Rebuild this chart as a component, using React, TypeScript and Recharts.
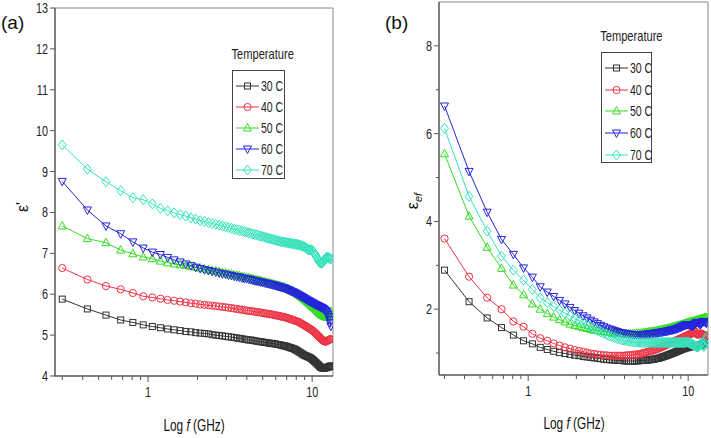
import React from 'react';
import { LineChart, Line, XAxis, YAxis, Legend, ReferenceLine } from 'recharts';

// sweep frequencies (GHz), linear steps of 0.127 GHz
const freqGHz = [
  0.3, 0.427, 0.554, 0.681, 0.808, 0.935, 1.062, 1.189, 1.316, 1.443,
  1.57, 1.697, 1.824, 1.951, 2.078, 2.205, 2.332, 2.459, 2.586, 2.713,
  2.84, 2.967, 3.094, 3.221, 3.348, 3.475, 3.602, 3.729, 3.856, 3.983,
  4.11, 4.237, 4.364, 4.491, 4.618, 4.745, 4.872, 4.999, 5.126, 5.253,
  5.38, 5.507, 5.634, 5.761, 5.888, 6.015, 6.142, 6.269, 6.396, 6.523,
  6.65, 6.777, 6.904, 7.031, 7.158, 7.285, 7.412, 7.539, 7.666, 7.793,
  7.92, 8.047, 8.174, 8.301, 8.428, 8.555, 8.682, 8.809, 8.936, 9.063,
  9.19, 9.317, 9.444, 9.571, 9.698, 9.825, 9.952, 10.079, 10.206, 10.333,
  10.46, 10.587, 10.714, 10.841, 10.968, 11.095, 11.222, 11.349, 11.476, 11.603,
  11.73, 11.857, 11.984, 12.111, 12.238, 12.365, 12.492, 12.619, 12.746, 12.873,
  13.0,
];

const tempLabels = ['30 C', '40 C', '50 C', '60 C', '70 C'];
const seriesColors = ['#333333', '#ee3344', '#33dd22', '#2424dd', '#36e2bc'];
const markerShapes = ['square', 'circle', 'up', 'down', 'diamond'];

// (a) real permittivity
const realPerm30 = [
  5.88, 5.64, 5.49, 5.37, 5.31, 5.25, 5.21, 5.18, 5.15, 5.13,
  5.11, 5.09, 5.08, 5.06, 5.05, 5.04, 5.03, 5.01, 5.0, 4.99,
  4.98, 4.97, 4.96, 4.95, 4.94, 4.93, 4.92, 4.91, 4.9, 4.89,
  4.88, 4.88, 4.87, 4.86, 4.85, 4.84, 4.84, 4.83, 4.82, 4.82,
  4.81, 4.8, 4.8, 4.79, 4.79, 4.78, 4.77, 4.77, 4.76, 4.75,
  4.74, 4.74, 4.73, 4.72, 4.71, 4.7, 4.69, 4.68, 4.67, 4.66,
  4.64, 4.63, 4.61, 4.59, 4.58, 4.56, 4.54, 4.53, 4.51, 4.5,
  4.49, 4.48, 4.47, 4.46, 4.45, 4.43, 4.42, 4.4, 4.38, 4.36,
  4.34, 4.32, 4.3, 4.28, 4.26, 4.24, 4.22, 4.21, 4.2, 4.19,
  4.19, 4.19, 4.2, 4.2, 4.21, 4.21, 4.22, 4.22, 4.23, 4.24,
  4.25,
];
const realPerm40 = [
  6.64, 6.36, 6.2, 6.12, 6.03, 5.95, 5.92, 5.89, 5.86, 5.84,
  5.82, 5.8, 5.78, 5.77, 5.75, 5.74, 5.73, 5.72, 5.71, 5.7,
  5.69, 5.68, 5.67, 5.66, 5.65, 5.64, 5.63, 5.62, 5.61, 5.6,
  5.59, 5.59, 5.58, 5.57, 5.56, 5.56, 5.55, 5.54, 5.53, 5.53,
  5.52, 5.51, 5.51, 5.5, 5.49, 5.48, 5.48, 5.47, 5.46, 5.45,
  5.45, 5.44, 5.43, 5.42, 5.41, 5.4, 5.39, 5.38, 5.37, 5.36,
  5.35, 5.34, 5.33, 5.32, 5.3, 5.29, 5.27, 5.26, 5.24, 5.23,
  5.21, 5.2, 5.18, 5.17, 5.15, 5.14, 5.12, 5.11, 5.09, 5.07,
  5.05, 5.03, 5.01, 4.99, 4.97, 4.95, 4.93, 4.91, 4.89, 4.87,
  4.86, 4.85, 4.84, 4.84, 4.85, 4.86, 4.87, 4.88, 4.89, 4.9,
  4.9,
];
const realPerm50 = [
  7.67, 7.36, 7.26, 7.08, 6.99, 6.91, 6.87, 6.81, 6.77, 6.74,
  6.72, 6.7, 6.68, 6.66, 6.64, 6.62, 6.6, 6.58, 6.57, 6.55,
  6.53, 6.52, 6.5, 6.49, 6.47, 6.46, 6.45, 6.43, 6.42, 6.41,
  6.4, 6.38, 6.37, 6.36, 6.35, 6.34, 6.33, 6.31, 6.3, 6.29,
  6.28, 6.27, 6.26, 6.25, 6.24, 6.23, 6.22, 6.21, 6.2, 6.19,
  6.18, 6.17, 6.15, 6.14, 6.13, 6.11, 6.1, 6.08, 6.07, 6.05,
  6.04, 6.02, 6.0, 5.98, 5.96, 5.94, 5.92, 5.9, 5.88, 5.86,
  5.84, 5.82, 5.8, 5.78, 5.76, 5.74, 5.72, 5.7, 5.68, 5.66,
  5.64, 5.62, 5.6, 5.58, 5.56, 5.54, 5.52, 5.5, 5.49, 5.48,
  5.47, 5.46, 5.45, 5.45, 5.44, 5.44, 5.45, 5.47, 5.5, 5.54,
  5.58,
];
const realPerm60 = [
  8.76, 8.06, 7.67, 7.48, 7.28, 7.13, 7.03, 6.97, 6.9, 6.84,
  6.79, 6.74, 6.7, 6.66, 6.63, 6.6, 6.58, 6.56, 6.54, 6.52,
  6.5, 6.49, 6.47, 6.46, 6.44, 6.43, 6.42, 6.4, 6.39, 6.38,
  6.37, 6.36, 6.34, 6.33, 6.32, 6.31, 6.3, 6.29, 6.28, 6.27,
  6.26, 6.25, 6.24, 6.23, 6.22, 6.21, 6.2, 6.19, 6.18, 6.17,
  6.16, 6.15, 6.14, 6.12, 6.11, 6.1, 6.08, 6.07, 6.06, 6.04,
  6.03, 6.01, 6.0, 5.98, 5.97, 5.95, 5.94, 5.92, 5.91, 5.89,
  5.88, 5.86, 5.85, 5.84, 5.82, 5.81, 5.8, 5.79, 5.77, 5.76,
  5.75, 5.74, 5.73, 5.72, 5.71, 5.7, 5.69, 5.68, 5.67, 5.66,
  5.65, 5.63, 5.61, 5.59, 5.57, 5.54, 5.5, 5.45, 5.38, 5.3,
  5.22,
];
const realPerm70 = [
  9.65, 9.06, 8.75, 8.53, 8.36, 8.31, 8.21, 8.1, 8.04, 7.99,
  7.95, 7.91, 7.87, 7.84, 7.8, 7.78, 7.75, 7.73, 7.71, 7.69,
  7.67, 7.65, 7.63, 7.61, 7.59, 7.58, 7.56, 7.55, 7.53, 7.52,
  7.5, 7.49, 7.47, 7.46, 7.45, 7.43, 7.42, 7.41, 7.4, 7.38,
  7.37, 7.36, 7.35, 7.34, 7.33, 7.32, 7.31, 7.3, 7.29, 7.28,
  7.28, 7.27, 7.27, 7.26, 7.25, 7.25, 7.24, 7.24, 7.23, 7.23,
  7.22, 7.22, 7.21, 7.21, 7.2, 7.19, 7.18, 7.17, 7.16, 7.15,
  7.13, 7.11, 7.09, 7.08, 7.08, 7.09, 7.08, 7.06, 7.03, 7.0,
  6.97, 6.93, 6.89, 6.85, 6.81, 6.78, 6.77, 6.76, 6.76, 6.78,
  6.8, 6.83, 6.86, 6.88, 6.9, 6.91, 6.9, 6.89, 6.88, 6.87,
  6.86,
];

// (b) effective permittivity
const effPerm30 = [
  2.89, 2.17, 1.8, 1.58, 1.41, 1.28, 1.21, 1.13, 1.08, 1.04,
  1.01, 0.99, 0.97, 0.95, 0.94, 0.92, 0.91, 0.9, 0.89, 0.88,
  0.87, 0.86, 0.85, 0.85, 0.84, 0.84, 0.83, 0.83, 0.83, 0.82,
  0.82, 0.82, 0.82, 0.82, 0.82, 0.82, 0.82, 0.83, 0.83, 0.83,
  0.83, 0.84, 0.84, 0.85, 0.85, 0.86, 0.86, 0.87, 0.88, 0.88,
  0.89, 0.9, 0.91, 0.92, 0.93, 0.94, 0.95, 0.96, 0.97, 0.98,
  0.99, 1.0, 1.01, 1.02, 1.03, 1.04, 1.05, 1.06, 1.07, 1.08,
  1.09, 1.1, 1.1, 1.11, 1.12, 1.12, 1.13, 1.13, 1.14, 1.14,
  1.15, 1.15, 1.15, 1.16, 1.16, 1.16, 1.17, 1.17, 1.17, 1.17,
  1.18, 1.18, 1.18, 1.19, 1.19, 1.2, 1.21, 1.23, 1.25, 1.27,
  1.3,
];
const effPerm40 = [
  3.61, 2.74, 2.26, 2.0, 1.72, 1.6, 1.44, 1.34, 1.28, 1.22,
  1.17, 1.13, 1.1, 1.07, 1.05, 1.03, 1.01, 0.99, 0.98, 0.97,
  0.96, 0.95, 0.95, 0.94, 0.94, 0.94, 0.94, 0.94, 0.94, 0.94,
  0.95, 0.95, 0.95, 0.96, 0.96, 0.97, 0.97, 0.98, 0.99, 1.0,
  1.01, 1.02, 1.03, 1.04, 1.05, 1.06, 1.07, 1.08, 1.09, 1.1,
  1.12, 1.13, 1.14, 1.16, 1.17, 1.18, 1.2, 1.21, 1.22, 1.24,
  1.25, 1.26, 1.27, 1.28, 1.29, 1.3, 1.31, 1.32, 1.33, 1.34,
  1.35, 1.36, 1.37, 1.38, 1.39, 1.4, 1.41, 1.42, 1.43, 1.43,
  1.44, 1.45, 1.46, 1.48, 1.5, 1.48, 1.45, 1.43, 1.42, 1.42,
  1.43, 1.44, 1.45, 1.44, 1.43, 1.42, 1.41, 1.4, 1.4, 1.4,
  1.4,
];
const effPerm50 = [
  5.54, 4.12, 3.41, 2.93, 2.55, 2.33, 2.12, 2.0, 1.9, 1.82,
  1.76, 1.71, 1.66, 1.63, 1.6, 1.58, 1.56, 1.54, 1.52, 1.51,
  1.5, 1.49, 1.48, 1.47, 1.46, 1.46, 1.45, 1.45, 1.44, 1.44,
  1.44, 1.44, 1.44, 1.44, 1.44, 1.45, 1.45, 1.45, 1.46, 1.46,
  1.47, 1.47, 1.48, 1.48, 1.49, 1.49, 1.5, 1.5, 1.51, 1.51,
  1.52, 1.53, 1.53, 1.54, 1.55, 1.55, 1.56, 1.57, 1.57, 1.58,
  1.59, 1.59, 1.6, 1.61, 1.61, 1.62, 1.63, 1.63, 1.64, 1.65,
  1.65, 1.66, 1.67, 1.67, 1.68, 1.69, 1.69, 1.7, 1.7, 1.71,
  1.71, 1.72, 1.72, 1.73, 1.73, 1.74, 1.74, 1.75, 1.75, 1.76,
  1.76, 1.77, 1.77, 1.78, 1.78, 1.79, 1.79, 1.8, 1.8, 1.81,
  1.81,
];
const effPerm60 = [
  6.63, 5.14, 4.21, 3.59, 3.25, 2.94, 2.73, 2.51, 2.39, 2.29,
  2.2, 2.12, 2.04, 1.97, 1.91, 1.85, 1.8, 1.75, 1.71, 1.67,
  1.63, 1.6, 1.57, 1.55, 1.53, 1.51, 1.49, 1.47, 1.46, 1.45,
  1.44, 1.43, 1.43, 1.42, 1.42, 1.42, 1.42, 1.42, 1.42, 1.42,
  1.43, 1.43, 1.43, 1.44, 1.44, 1.45, 1.45, 1.46, 1.46, 1.47,
  1.47, 1.48, 1.48, 1.49, 1.49, 1.5, 1.5, 1.51, 1.52, 1.52,
  1.53, 1.53, 1.54, 1.55, 1.55, 1.56, 1.57, 1.58, 1.59, 1.6,
  1.61, 1.62, 1.63, 1.64, 1.64, 1.65, 1.65, 1.65, 1.64, 1.63,
  1.62, 1.61, 1.62, 1.64, 1.66, 1.68, 1.69, 1.7, 1.7, 1.69,
  1.67, 1.65, 1.66, 1.68, 1.7, 1.71, 1.72, 1.72, 1.71, 1.7,
  1.68,
];
const effPerm70 = [
  6.12, 4.57, 3.78, 3.21, 2.89, 2.66, 2.45, 2.26, 2.15, 2.06,
  1.98, 1.91, 1.85, 1.79, 1.74, 1.69, 1.64, 1.59, 1.55, 1.51,
  1.48, 1.45, 1.42, 1.39, 1.37, 1.35, 1.33, 1.32, 1.3, 1.29,
  1.28, 1.27, 1.26, 1.26, 1.25, 1.25, 1.25, 1.24, 1.24, 1.24,
  1.24, 1.24, 1.24, 1.24, 1.24, 1.24, 1.24, 1.24, 1.24, 1.24,
  1.24, 1.24, 1.24, 1.24, 1.24, 1.24, 1.24, 1.24, 1.24, 1.24,
  1.24, 1.24, 1.24, 1.24, 1.24, 1.24, 1.24, 1.24, 1.24, 1.24,
  1.24, 1.24, 1.24, 1.24, 1.25, 1.25, 1.25, 1.24, 1.23, 1.22,
  1.21, 1.2, 1.19, 1.18, 1.17, 1.16, 1.15, 1.14, 1.14, 1.15,
  1.17, 1.19, 1.21, 1.22, 1.21, 1.18, 1.15, 1.17, 1.22, 1.3,
  1.36,
];

const xTicks = [0.3, 0.4, 0.5, 0.6, 0.7, 0.8, 0.9, 1, 2, 3, 4, 5, 6, 7, 8, 9, 10];
const xLabeled = [1, 10];
const yTicksA = [4, 5, 6, 7, 8, 9, 10, 11, 12, 13];
const yTicksB = [1, 2, 3, 4, 5, 6, 7, 8];
const yLabeledB = [2, 4, 6, 8];

const dataA = freqGHz.map((f, i) => ({
  f, s0: realPerm30[i], s1: realPerm40[i], s2: realPerm50[i], s3: realPerm60[i], s4: realPerm70[i],
}));
const dataB = freqGHz.map((f, i) => ({
  f, s0: effPerm30[i], s1: effPerm40[i], s2: effPerm50[i], s3: effPerm60[i], s4: effPerm70[i],
}));

const FONT = '"Liberation Sans", Arial, sans-serif';
const NARROW = 0.72;
const AXIS = '#555';

function Marker({ shape, cx, cy, color }: any) {
  if (cx == null || cy == null || isNaN(cx) || isNaN(cy)) return null;
  const common = { fill: 'none', stroke: color, strokeWidth: 1 };
  switch (shape) {
    case 'square':
      return <rect x={cx - 3} y={cy - 3} width={6} height={6} {...common} />;
    case 'circle':
      return <circle cx={cx} cy={cy} r={3.6} {...common} />;
    case 'up':
      return <path d={`M${cx},${cy - 4.5}L${cx + 4},${cy + 3}L${cx - 4},${cy + 3}Z`} {...common} />;
    case 'down':
      return <path d={`M${cx},${cy + 4.5}L${cx + 4},${cy - 3}L${cx - 4},${cy - 3}Z`} {...common} />;
    default:
      return <path d={`M${cx},${cy - 5}L${cx + 4},${cy}L${cx},${cy + 5}L${cx - 4},${cy}Z`} {...common} />;
  }
}

function narrow(x: number, k = NARROW) {
  return `translate(${x} 0) scale(${k} 1) translate(${-x} 0)`;
}

function XTick({ x, y, payload }: any) {
  const major = xLabeled.includes(payload.value);
  return (
    <g>
      <line x1={x} x2={x} y1={y} y2={y + (major ? 6 : 4)} stroke={AXIS} />
      {major && (
        <text x={x} y={y + 21} textAnchor="middle" fontSize={15} fontFamily={FONT} fill="#222" transform={narrow(x)}>
          {payload.value}
        </text>
      )}
    </g>
  );
}

function makeYTick(labeled: number[] | null) {
  return ({ x, y, payload }: any) => {
    const major = labeled ? labeled.includes(payload.value) : true;
    return (
      <g>
        <line x1={x - (major ? 5 : 3)} x2={x} y1={y} y2={y} stroke={AXIS} />
        {major && (
          <text x={x - 7} y={y + 5} textAnchor="end" fontSize={15} fontFamily={FONT} fill="#222" transform={narrow(x - 7)}>
            {payload.value}
          </text>
        )}
      </g>
    );
  };
}

function TempLegend({ boxW, boxH, rowGap }: any) {
  return (
    <div style={{ position: 'relative', width: boxW + 20, height: boxH + 30, fontFamily: FONT, color: '#222' }}>
      <div style={{ position: 'absolute', left: 0, top: 1, width: boxW + 20, textAlign: 'center', fontSize: 15, lineHeight: '18px', transform: 'scaleX(0.74)' }}>
        Temperature
      </div>
      <div style={{ position: 'absolute', left: 10, top: 26, width: boxW, height: boxH, border: '1px solid #444', boxSizing: 'border-box' }}>
        {tempLabels.map((t, i) => (
          <div key={t} style={{ position: 'absolute', left: 0, top: 15 + i * rowGap - 8, height: 16, width: boxW }}>
            <svg width={28} height={16} style={{ position: 'absolute', left: 0, top: 0 }}>
              <line x1={3} x2={26} y1={8} y2={8} stroke={seriesColors[i]} />
              <Marker shape={markerShapes[i]} cx={14.5} cy={8} color={seriesColors[i]} />
            </svg>
            <span style={{ position: 'absolute', left: 28, top: 0, fontSize: 15, lineHeight: '16px', whiteSpace: 'nowrap', transform: 'scaleX(0.7)', transformOrigin: 'left center' }}>
              {t}
            </span>
          </div>
        ))}
      </div>
    </div>
  );
}

function Panel({ data, width, margin, xDomain, yDomain, yTicks, yLabeled, legendPos }: any) {
  return (
    <LineChart width={width} height={438} data={data} margin={margin}>
      <XAxis
        dataKey="f" type="number" scale="log" domain={xDomain} allowDataOverflow
        ticks={xTicks} interval={0} tick={<XTick />} tickLine={false} tickSize={0} tickMargin={0}
        height={40} axisLine={{ stroke: AXIS, strokeWidth: 1.5 }}
      />
      <YAxis
        type="number" domain={yDomain} allowDataOverflow ticks={yTicks} interval={0}
        tick={makeYTick(yLabeled)} tickLine={false} tickSize={0} tickMargin={0}
        width={50} axisLine={{ stroke: AXIS, strokeWidth: 1.5 }}
      />
      <ReferenceLine y={yDomain[1]} stroke="#888" />
      <ReferenceLine x={xDomain[1]} stroke="#888" />
      {tempLabels.map((t, i) => (
        <Line
          key={t} dataKey={`s${i}`} name={t} type="linear" stroke={seriesColors[i]} strokeWidth={1}
          isAnimationActive={false} activeDot={false}
          dot={(p: any) => <Marker key={`m${i}-${p.index}`} shape={markerShapes[i]} cx={p.cx} cy={p.cy} color={seriesColors[i]} />}
        />
      ))}
      <Legend
        layout="horizontal" verticalAlign="middle" align="center"
        wrapperStyle={{ left: legendPos.left, top: legendPos.top, width: legendPos.boxW + 20 }}
        content={() => <TempLegend boxW={legendPos.boxW} boxH={legendPos.boxH} rowGap={legendPos.rowGap} />}
      />
    </LineChart>
  );
}

export default function App() {
  return (
    <div style={{ position: 'absolute', left: 0, top: 0, width: 711, height: 438, background: '#fff', fontFamily: FONT }}>
      <div style={{ position: 'absolute', left: 0, top: 0 }}>
        <Panel
          data={dataA} width={345} margin={{ top: 8, right: 12, bottom: 22, left: 5 }}
          xDomain={[0.271, 13.4]} yDomain={[4, 13]} yTicks={yTicksA} yLabeled={null}
          legendPos={{ left: 222, top: 44, boxW: 53, boxH: 109, rowGap: 21 }}
        />
      </div>
      <div style={{ position: 'absolute', left: 360, top: 0 }}>
        <Panel
          data={dataB} width={351} margin={{ top: 2, right: 3, bottom: 23, left: 29 }}
          xDomain={[0.277, 13.3]} yDomain={[0.5, 9]} yTicks={yTicksB} yLabeled={yLabeledB}
          legendPos={{ left: 231, top: 26, boxW: 51, boxH: 111, rowGap: 21.7 }}
        />
      </div>
      <svg width={711} height={438} style={{ position: 'absolute', left: 0, top: 0, pointerEvents: 'none' }}>
        <text x={1} y={29} fontSize={19} fontFamily={FONT} fill="#111">(a)</text>
        <text x={385} y={29} fontSize={19} fontFamily={FONT} fill="#111">(b)</text>
        <text x={194} y={431} textAnchor="middle" fontSize={16} fontFamily={FONT} fill="#111" transform={narrow(194, 0.74)}>
          Log <tspan fontStyle="italic">f</tspan> (GHz)
        </text>
        <text x={574} y={429} textAnchor="middle" fontSize={16} fontFamily={FONT} fill="#111" transform={narrow(574, 0.74)}>
          Log <tspan fontStyle="italic">f</tspan> (GHz)
        </text>
        <text x={0} y={0} textAnchor="middle" fontSize={16} fontFamily={FONT} fill="#111" transform="translate(28 207) rotate(-90)">
          ε'
        </text>
        <text x={0} y={0} textAnchor="middle" fontSize={16} fontFamily={FONT} fill="#111" transform="translate(418 201) rotate(-90)">
          ε<tspan fontSize={11} fontStyle="italic" dy={4}>ef</tspan>
        </text>
      </svg>
    </div>
  );
}
